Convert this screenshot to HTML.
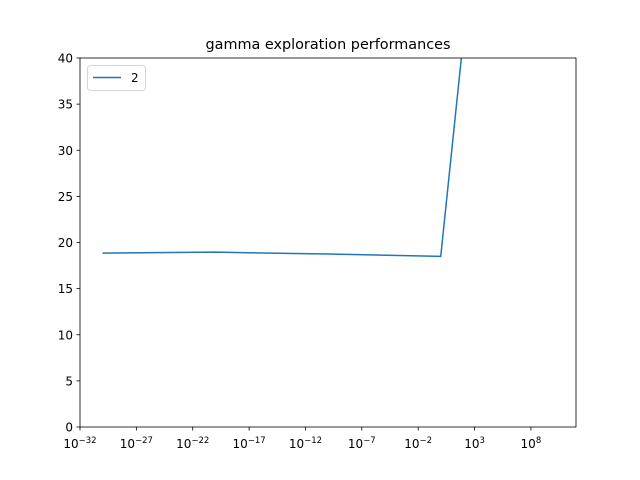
<!DOCTYPE html>
<html><head><meta charset="utf-8"><style>body{margin:0;background:#fff}svg{display:block}text{font-family:"DejaVu Sans","Liberation Sans",sans-serif;fill:#000}</style></head>
<body>
<svg id="chart" width="640" height="480" xmlns="http://www.w3.org/2000/svg">
<rect width="640" height="480" fill="#fff"/>
<defs><clipPath id="clip"><rect x="80" y="58" width="496" height="369"/></clipPath></defs>
<text x="328" y="49" font-size="14.4" text-anchor="middle">gamma exploration performances</text>
<g id="xticks"></g><g id="yticks"></g>
<polyline id="series" fill="none" stroke="#1f77b4" stroke-width="1.5" clip-path="url(#clip)"/>
<rect x="80" y="58" width="496" height="369" fill="none" stroke="#000" stroke-width="0.8"/>
<g>
<rect x="87.5" y="65.5" width="58" height="25" rx="3" fill="#fff" stroke="#ccc" stroke-width="0.8"/>
<line x1="93" y1="77.5" x2="121" y2="77.5" stroke="#1f77b4" stroke-width="1.5"/>
<text x="131" y="82" font-size="12">2</text>
</g>
</svg>
<script>
const xExp = [-30, -20, -10, 0, 2];
const yVals = [18.85, 18.95, 18.75, 18.5, 42];
const xTickExps = [-32, -27, -22, -17, -12, -7, -2, 3, 8];
const yTicks = [0, 5, 10, 15, 20, 25, 30, 35, 40];
const NS = "http://www.w3.org/2000/svg";
const xs = e => 80 + (e + 32) / 44 * 496;
const ys = v => 427 - v / 40 * 369;
document.getElementById('series').setAttribute('points', xExp.map((e,i)=>xs(e)+','+ys(yVals[i])).join(' '));
const gx = document.getElementById('xticks'), gy = document.getElementById('yticks');
xTickExps.forEach(e => {
  const x = xs(e);
  const l = document.createElementNS(NS,'line');
  l.setAttribute('x1',x);l.setAttribute('x2',x);l.setAttribute('y1',427);l.setAttribute('y2',430.5);l.setAttribute('stroke','#000');l.setAttribute('stroke-width','0.8');
  
  
  gx.appendChild(l);
  const t = document.createElementNS(NS,'text');
  t.setAttribute('x',x);t.setAttribute('y',448);t.setAttribute('font-size','12');t.setAttribute('text-anchor','middle');
  t.innerHTML = '10<tspan dy="-5" font-size="8.5">' + (e<0?'\u2212'+(-e):e) + '</tspan>';
  
  
  gx.appendChild(t);
});
yTicks.forEach(v => {
  const y = ys(v);
  const l = document.createElementNS(NS,'line');
  l.setAttribute('x1',76.5);l.setAttribute('x2',80);l.setAttribute('y1',y);l.setAttribute('y2',y);l.setAttribute('stroke','#000');l.setAttribute('stroke-width','0.8');
  
  
  gy.appendChild(l);
  const t = document.createElementNS(NS,'text');
  t.setAttribute('x',73);t.setAttribute('y',y+4.5);t.setAttribute('font-size','12');t.setAttribute('text-anchor','end');
  t.textContent = v;
  
  
  gy.appendChild(t);
});
</script>
</body></html>
